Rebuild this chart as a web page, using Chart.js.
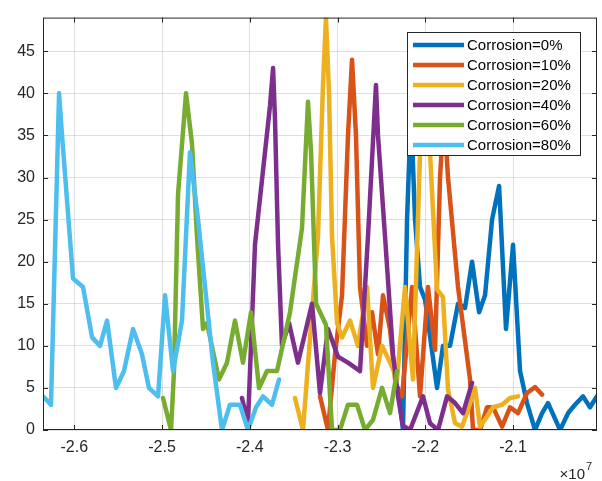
<!DOCTYPE html>
<html>
<head>
<meta charset="utf-8">
<script src="https://cdn.jsdelivr.net/npm/chart.js@4.4.1/dist/chart.umd.min.js"></script>
<style>
  html, body { margin: 0; padding: 0; background: #fff; }
  #grafico { display: block; }
</style>
</head>
<body>
<canvas id="grafico" width="602" height="481"></canvas>
<script>
// ─── Data (x in units of 1e7) ────────────────────────────────────────────────
const labels = ['Corrosion=0%', 'Corrosion=10%', 'Corrosion=20%', 'Corrosion=40%', 'Corrosion=60%', 'Corrosion=80%'];
const colors = ['#0072BD', '#D95319', '#EDB120', '#7E2F8E', '#77AC30', '#4DBEEE'];

const x0 = [-2.2311, -2.2254, -2.2208, -2.2163, -2.2117, -2.2060, -2.2003, -2.1866, -2.1798, -2.1718, -2.1627, -2.1547, -2.1467, -2.1387, -2.1319, -2.1239, -2.1159, -2.1080, -2.1000, -2.0920, -2.0841, -2.0749, -2.0669, -2.0601, -2.0464, -2.0373, -2.0294, -2.0202, -2.0123, -2.0043];
const y0 = [5, 0, 25, 38, 25, 17, 15.5, 5, 10, 10, 15, 14.5, 20, 14, 16, 25, 29, 12, 22, 7, 3.2, 0, 2, 3.2, 0, 2, 3, 4, 2.7, 4];

const x10 = [-2.3200, -2.3109, -2.3029, -2.2949, -2.2881, -2.2835, -2.2790, -2.2744, -2.2664, -2.2607, -2.2539, -2.2482, -2.2402, -2.2334, -2.2265, -2.2151, -2.2060, -2.1969, -2.1889, -2.1832, -2.1787, -2.1741, -2.1627, -2.1490, -2.1456, -2.1376, -2.1296, -2.1228, -2.1125, -2.1034, -2.0943, -2.0841, -2.0749, -2.0669];
const y10 = [4, 0, 9, 16, 35, 44, 35, 17, 10, 14, 9, 16, 12, 5, 4, 17, 4, 17, 9.5, 30, 38, 30, 17, 6, 0, 0, 2.7, 2.7, 0.4, 2.7, 2, 4.4, 5.1, 4.2];

const x20 = [-2.3485, -2.3394, -2.3291, -2.3223, -2.3166, -2.3132, -2.3097, -2.3063, -2.3006, -2.2949, -2.2858, -2.2767, -2.2664, -2.2596, -2.2493, -2.2379, -2.2322, -2.2231, -2.2140, -2.2060, -2.2003, -2.1946, -2.1866, -2.1798, -2.1741, -2.1661, -2.1581, -2.1513, -2.1433, -2.1376, -2.1296, -2.1228, -2.1125, -2.1034, -2.0943];
const y20 = [3.8, 0, 14, 23, 41, 49, 40, 23, 12.7, 11, 13, 10, 17, 5, 10, 7.5, 6, 17, 6, 33, 38, 33, 16.7, 15.8, 4.8, 0.8, 0.4, 2.4, 5, 0.4, 1.6, 2.7, 3, 3.8, 4];

const x40 = [-2.4089, -2.4021, -2.3941, -2.3770, -2.3735, -2.3713, -2.3678, -2.3633, -2.3553, -2.3451, -2.3291, -2.3200, -2.3109, -2.2995, -2.2881, -2.2744, -2.2653, -2.2562, -2.2539, -2.2459, -2.2368, -2.2311, -2.2254, -2.2174, -2.2026, -2.1946, -2.1855, -2.1752, -2.1661, -2.1570, -2.1467];
const y40 = [3.8, 0.8, 22, 38.5, 43, 37, 22, 10, 12.7, 8, 15, 4.4, 12, 8.7, 8, 7, 23, 41, 35, 23, 9, 4, 0.5, 0, 4, 0.8, 0, 4, 3.2, 2, 5.6];

const x60 = [-2.4989, -2.4898, -2.4864, -2.4818, -2.4727, -2.4659, -2.4602, -2.4533, -2.4488, -2.4351, -2.4260, -2.4169, -2.4078, -2.3986, -2.3895, -2.3804, -2.3690, -2.3542, -2.3405, -2.3337, -2.3302, -2.3245, -2.3132, -2.3063, -2.2972, -2.2881, -2.2778, -2.2687, -2.2596, -2.2493, -2.2402, -2.2322];
const y60 = [3.8, 0, 7, 28, 40, 34, 23, 12, 12.7, 6, 8, 13, 8, 14, 5, 7, 7, 14, 24, 39, 33, 15, 12.5, 0, 0, 3, 3, 0, 1.2, 5, 2, 7];

const x80 = [-2.6357, -2.6266, -2.6174, -2.6140, -2.6015, -2.5901, -2.5798, -2.5707, -2.5627, -2.5525, -2.5434, -2.5331, -2.5229, -2.5149, -2.5046, -2.4966, -2.4875, -2.4773, -2.4682, -2.4590, -2.4510, -2.4419, -2.4317, -2.4226, -2.4112, -2.4021, -2.3929, -2.3850, -2.3747, -2.3667];
const y80 = [4, 3, 40, 35, 18, 17, 11, 10, 13, 5, 7, 12, 9, 5, 4, 16, 7, 13, 33, 25, 17, 8, 0, 3, 3, 0, 2.7, 4, 3, 6];

const xMin = -2.6357, xMax = -2.0043;
const yMin = 0, yMax = 49;

// ─── Helpers ─────────────────────────────────────────────────────────────────
const axisColor = '#262626';
const gridColor = 'rgba(38,38,38,0.15)';
const fontFamily = "'Liberation Sans', Arial, Helvetica, sans-serif";

function toPoints(xs, ys) {
  return xs.map((x, i) => ({ x: x, y: ys[i] }));
}

const seriesX = [x0, x10, x20, x40, x60, x80];
const seriesY = [y0, y10, y20, y40, y60, y80];

const datasets = labels.map((lab, i) => ({
  label: lab,
  data: toPoints(seriesX[i], seriesY[i]),
  borderColor: colors[i],
  backgroundColor: colors[i],
  borderWidth: 4.5,
  borderJoinStyle: 'round',
  borderCapStyle: 'round',
  pointRadius: 0,
  tension: 0,
  fill: false,
  order: labels.length - i   // last series drawn on top, like MATLAB
}));

// ─── Plugins: MATLAB box, inward ticks, legend, exponent ─────────────────────
const boxPlugin = {
  id: 'boxPlugin',
  afterDatasetsDraw(chart) {
    const { ctx, chartArea: a, scales } = chart;
    ctx.save();
    ctx.strokeStyle = axisColor;
    ctx.lineWidth = 1;
    ctx.beginPath();
    const tl = 5;
    scales.x.ticks.forEach(t => {
      const px = Math.round(scales.x.getPixelForValue(t.value)) + 0.5;
      ctx.moveTo(px, a.bottom); ctx.lineTo(px, a.bottom - tl);
      ctx.moveTo(px, a.top); ctx.lineTo(px, a.top + tl);
    });
    scales.y.ticks.forEach(t => {
      const py = Math.round(scales.y.getPixelForValue(t.value)) + 0.5;
      ctx.moveTo(a.left, py); ctx.lineTo(a.left + tl, py);
      ctx.moveTo(a.right, py); ctx.lineTo(a.right - tl, py);
    });
    ctx.stroke();
    ctx.strokeRect(a.left + 0.5, a.top + 0.5, a.right - a.left - 1, a.bottom - a.top - 1);
    ctx.restore();
  },
  afterDraw(chart) {
    const { ctx, chartArea: a } = chart;
    ctx.save();
    // legend
    const bx = 407.5, by = 32.5, bw = 173, bh = 123;
    ctx.fillStyle = '#fff';
    ctx.fillRect(bx, by, bw, bh);
    ctx.strokeStyle = axisColor;
    ctx.lineWidth = 1;
    ctx.strokeRect(bx, by, bw, bh);
    ctx.font = '15px ' + fontFamily;
    ctx.textBaseline = 'middle';
    ctx.textAlign = 'left';
    labels.forEach((lab, i) => {
      const y = 45 + i * 20;
      ctx.strokeStyle = colors[i];
      ctx.lineWidth = 4.5;
      ctx.beginPath();
      ctx.moveTo(413, y); ctx.lineTo(464, y);
      ctx.stroke();
      ctx.fillStyle = '#000';
      ctx.fillText(lab, 467, y + 1);
    });
    // exponent label
    ctx.fillStyle = axisColor;
    ctx.textBaseline = 'alphabetic';
    ctx.textAlign = 'right';
    ctx.font = '15px ' + fontFamily;
    ctx.fillText('\u00d710', a.right - 12, 479);
    ctx.font = '11px ' + fontFamily;
    ctx.textAlign = 'left';
    ctx.fillText('7', a.right - 11, 470);
    ctx.restore();
  }
};

// ─── Chart ───────────────────────────────────────────────────────────────────
const ctx = document.getElementById('grafico').getContext('2d');
new Chart(ctx, {
  type: 'line',
  data: { datasets: datasets },
  options: {
    responsive: false,
    animation: false,
    parsing: true,
    layout: { padding: { left: 0, top: 16, right: 5, bottom: 0 } },
    plugins: { legend: { display: false }, tooltip: { enabled: false } },
    scales: {
      x: {
        type: 'linear',
        min: xMin, max: xMax,
        afterFit: s => { s.height = 51; },
        grid: { color: gridColor, drawTicks: false },
        border: { display: false },
        ticks: {
          stepSize: 0.1,
          includeBounds: false,
          padding: 8,
          color: axisColor,
          font: { family: fontFamily, size: 16 },
          maxRotation: 0,
          callback: v => v.toFixed(1)
        }
      },
      y: {
        type: 'linear',
        min: yMin, max: yMax,
        afterFit: s => { s.width = 43; },
        grid: { color: gridColor, drawTicks: false },
        border: { display: false },
        ticks: {
          stepSize: 5,
          includeBounds: false,
          padding: 8,
          color: axisColor,
          font: { family: fontFamily, size: 16 }
        }
      }
    }
  },
  plugins: [boxPlugin]
});
</script>
</body>
</html>
